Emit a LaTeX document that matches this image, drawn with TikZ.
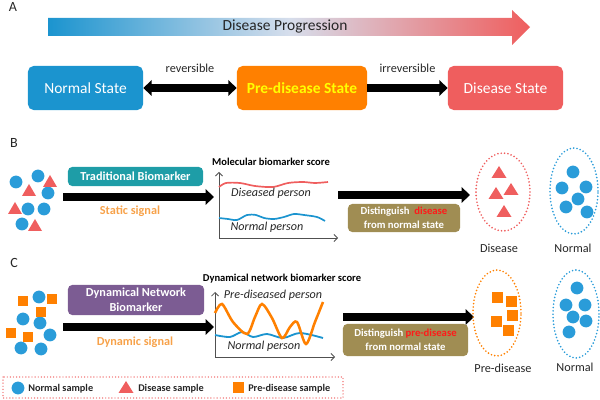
\documentclass[tikz,border=0pt]{standalone}
\usepackage{fontspec}
\setmainfont{Carlito}
\usetikzlibrary{positioning,arrows.meta,shapes.geometric}
\definecolor{azul}{HTML}{1B94CF}
\definecolor{azulm}{HTML}{2A9CD9}
\definecolor{azulclaro}{HTML}{D6DEEC}
\definecolor{naranja}{HTML}{FF8000}
\definecolor{naranjaclaro}{HTML}{F7A24A}
\definecolor{rojo}{HTML}{EF5E5E}
\definecolor{rojotexto}{HTML}{FF1A1A}
\definecolor{amarillo}{HTML}{FFFF00}
\definecolor{turquesa}{HTML}{1E9DA7}
\definecolor{morado}{HTML}{7C5C93}
\definecolor{oliva}{HTML}{A08D53}
\definecolor{gris}{HTML}{505050}
\definecolor{texto}{HTML}{262626}
\tikzset{
  estado/.style={rounded corners=4pt, minimum height=1.1cm, inner sep=0pt, text=white,
                 font=\fontsize{11}{13}\selectfont},
  marcador/.style={rounded corners=3pt, inner sep=0pt, text=white, align=center,
                   font=\bfseries\fontsize{8.7}{10.6}\selectfont},
  distingue/.style={fill=oliva, rounded corners=3pt, inner sep=0pt, text=white, align=center,
                    font=\bfseries\fontsize{7.6}{9.6}\selectfont},
  punta/.tip={Triangle[length=6pt,width=11pt]},
  flecha/.style={line width=5pt, -punta},
  eje/.style={gris, line width=0.6pt, -{Straight Barb[length=2.5pt]}},
  grupo/.style={ellipse, draw, line width=1.3pt, dash pattern=on 0pt off 2.4pt, line cap=round},
  persona/.style={texto, font=\itshape\fontsize{8.6}{10}\selectfont},
  titulo/.style={font=\bfseries\fontsize{7.5}{9}\selectfont},
  signo/.style={naranjaclaro, font=\bfseries\fontsize{8.7}{10}\selectfont},
  letra/.style={texto, font=\fontsize{10}{12}\selectfont}
}

\begin{document}
\begin{tikzpicture}[x=0.025cm, y=-0.025cm, font=\fontsize{8.7}{10.5}\selectfont]
  \useasboundingbox (0,0) rectangle (600,400);

  % A
  \node[letra] (la) at (13,7) {A};
  \shade[left color=azul, right color=rojo, middle color=azulclaro]
    (48,18) -- (512,18) -- (512,10) -- (530,27) -- (512,45) -- (512,36) -- (48,36) -- cycle;
  \node[texto, font=\fontsize{11}{13}\selectfont] (prog) at (285,27) {Disease Progression};

  \node[estado, fill=azul, minimum width=2.875cm] (normal) at (85.5,88) {Normal State};
  \node[estado, fill=naranja, minimum width=3.25cm, text=amarillo, font=\bfseries\fontsize{11}{13}\selectfont]
    (predis) at (302,88) {Pre-disease State};
  \node[estado, fill=rojo, minimum width=2.875cm] (enfermo) at (505.5,88) {Disease State};
  \draw[line width=5pt, punta-punta] (normal) -- node[above=5pt, texto]{reversible} (predis);
  \draw[flecha] (predis) -- node[above=5pt, texto]{irreversible} (enfermo);

  % B
  \node[letra] (lb) at (14,143) {B};
  \foreach \p in {(16,182),(38,176),(48,193),(28,209),(44,209),(22,224)}
    \fill[azulm] \p circle (0.16cm);
  \foreach \x/\y in {50/182,29/191,15/209,35/226}
    \fill[rojo] (\x,\y) +(0,-7) -- +(7,5) -- +(-7,5) -- cycle;
  \node[marcador, fill=turquesa, minimum width=3.375cm, minimum height=0.475cm]
    (trad) at (135.5,176.5) {Traditional Biomarker};
  \coordinate (b0) at (63,197);
  \coordinate (b1) at (214,197);
  \draw[flecha] (b0) -- (b1);
  \node[signo] (estatica) at (130,211) {Static signal};

  \node[titulo] (titB) at (271,162) {Molecular biomarker score};
  \coordinate (oB) at (219,238);
  \draw[eje] (oB) -- (219,172);
  \draw[eje] (oB) -- (338,238);
  \draw[rojo, line width=1.2pt] plot[smooth] coordinates
    {(219,187) (226,183) (240,183) (255,186) (273,187) (288,183) (303,182) (315,183) (328,182)};
  \draw[azul, line width=1.2pt] plot[smooth] coordinates
    {(219,218) (228,219) (237,220) (247,215) (256,215) (264,218) (274,219) (284,217) (294,214)
     (304,215) (317,217) (325,221)};
  \node[persona] (enfB) at (271,193) {Diseased person};
  \node[persona] (sanoB) at (267,227) {Normal person};

  \coordinate (b2) at (338,195);
  \coordinate (b3) at (470,195);
  \draw[flecha] (b2) -- (b3);
  \node[distingue, minimum width=2.8cm, minimum height=0.7cm] (distB) at (404,218)
    {Distinguish \ \textcolor{rojotexto}{disease}\\from normal state};

  \node[grupo, rojo, minimum width=1.35cm, minimum height=1.95cm] (eB1) at (503,192) {};
  \node[grupo, azulm, minimum width=1.2cm, minimum height=2.15cm] (eB2) at (574,191) {};
  \foreach \x/\y in {499/173,496/194,511/190,504/212}
    \fill[rojo] (\x,\y) +(0,-7) -- +(7.5,5) -- +(-7.5,5) -- cycle;
  \foreach \p in {(573,172),(562,188),(586,187),(578,199),(566,207),(587,212)}
    \fill[azulm] \p circle (0.16cm);
  \node[texto] (lB1) at (499,248) {Disease};
  \node[texto] (lB2) at (573,248) {Normal};

  % C
  \node[letra] (lc) at (14,263) {C};
  \foreach \p in {(39,297),(23,319),(40,323),(50,335),(21,348),(41,349)}
    \fill[azulm] \p circle (0.16cm);
  \foreach \x/\y in {23/301,52/299,41/312,11/333,28/337}
    \fill[naranja] (\x,\y) +(-5.2,-5.2) rectangle +(5.2,5.2);
  \node[marcador, fill=morado, minimum width=3.4cm, minimum height=0.75cm]
    (dnb) at (136,300) {Dynamical Network\\Biomarker};
  \coordinate (c0) at (63,327);
  \coordinate (c1) at (214,327);
  \draw[flecha] (c0) -- (c1);
  \node[signo] (dinamica) at (135,342) {Dynamic signal};

  \node[titulo] (titC) at (282,279) {Dynamical network biomarker score};
  \coordinate (oC) at (215,357);
  \draw[eje] (oC) -- (215,292);
  \draw[eje] (oC) -- (335,357);
  \draw[azul, line width=1.3pt] plot[smooth] coordinates
    {(215,335) (230,337) (242,332) (253,337) (267,334) (283,338) (300,333) (323,338)};
  \draw[naranja, line width=1.8pt] plot[smooth] coordinates
    {(215,313) (222,304) (233,322) (247,334) (255,317) (262,304) (272,318) (282,338)
     (290,327) (297,322) (306,344) (315,322) (323,302)};
  \node[persona] (enfC) at (273,295) {Pre-diseased person};
  \node[persona] (sanoC) at (264,346) {Normal person};

  \coordinate (c2) at (343,317);
  \coordinate (c3) at (474,317);
  \draw[flecha] (c2) -- (c3);
  \node[distingue, minimum width=3.125cm, minimum height=0.8cm] (distC) at (405.5,340)
    {Distinguish \textcolor{rojotexto}{pre-disease}\\from normal state};

  \node[grupo, naranja, minimum width=1.2cm, minimum height=2.15cm] (eC1) at (497,313) {};
  \node[grupo, azulm, minimum width=1.15cm, minimum height=2.2cm] (eC2) at (576,314) {};
  \foreach \x/\y in {497/298,511/302,512/316,496/322,508/331}
    \fill[naranja] (\x,\y) +(-5.5,-5.5) rectangle +(5.5,5.5);
  \foreach \p in {(577,288),(566,305),(585,305),(573,317),(586,321),(569,332)}
    \fill[azulm] \p circle (0.16cm);
  \node[texto] (lC1) at (503,368) {Pre-disease};
  \node[texto] (lC2) at (575,367) {Normal};

  % leyenda
  \draw[rojo, line width=1pt, dash pattern=on 0pt off 2.2pt, line cap=round] (3,377) rectangle (343,398);
  \fill[azulm] (18,388) circle (0.16cm);
  \fill[rojo] (126,388) +(0,-7) -- +(7.5,5) -- +(-7.5,5) -- cycle;
  \fill[naranja] (238,388) +(-5.5,-5.5) rectangle +(5.5,5.5);
  \node[texto, anchor=west, inner sep=0pt, font=\bfseries\fontsize{7.3}{9}\selectfont] (ley1) at (28,389) {Normal sample};
  \node[texto, anchor=west, inner sep=0pt, font=\bfseries\fontsize{7.3}{9}\selectfont] (ley2) at (138,389) {Disease sample};
  \node[texto, anchor=west, inner sep=0pt, font=\bfseries\fontsize{7.3}{9}\selectfont] (ley3) at (248,389) {Pre-disease sample};
\end{tikzpicture}
\end{document}
